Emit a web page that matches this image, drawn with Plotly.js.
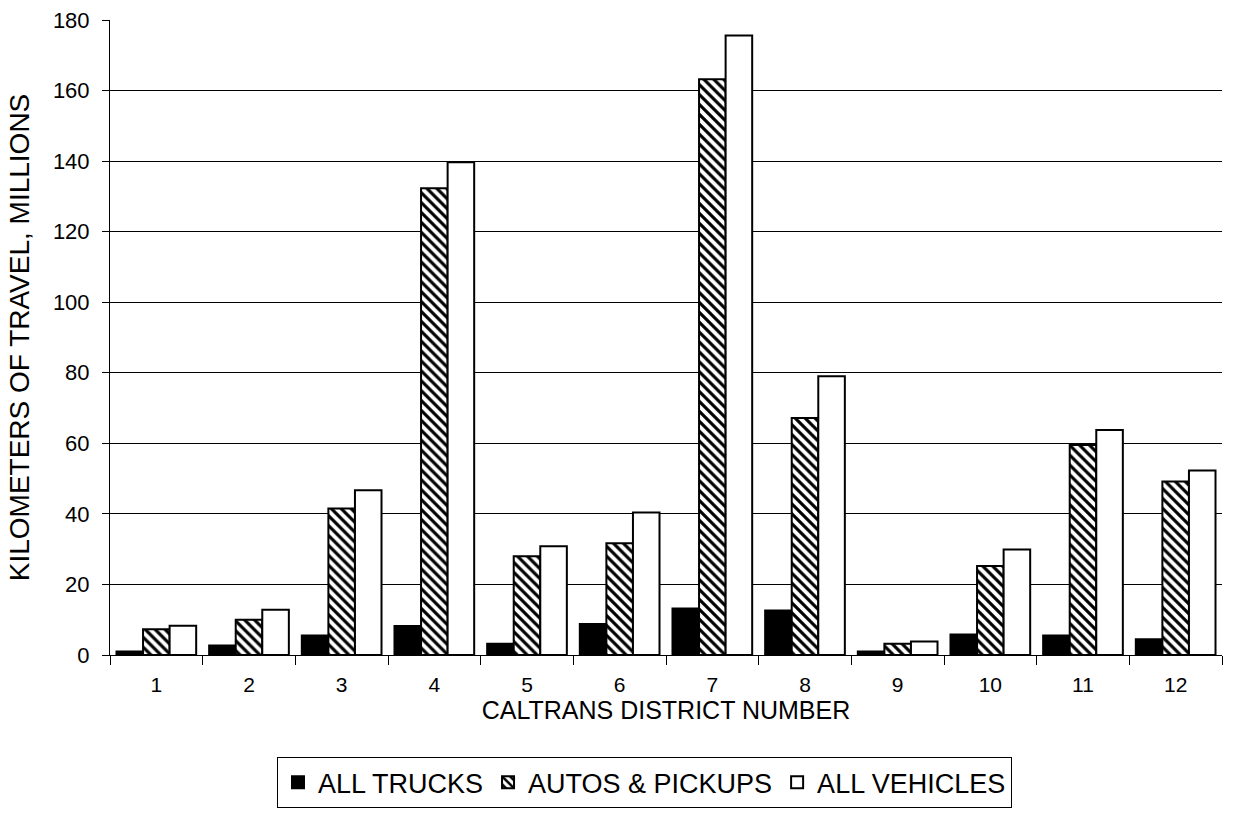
<!DOCTYPE html>
<html>
<head>
<meta charset="utf-8">
<script src="https://cdn.plot.ly/plotly-3.0.1.min.js"></script>
<style>html,body{margin:0;padding:0;background:#fff;}#chart{width:1237px;height:816px;}</style>
</head>
<body>
<div id="chart"></div>
<script>
const districts = ["1","2","3","4","5","6","7","8","9","10","11","12"];
const allTrucks = [1.0, 2.7, 5.5, 8.2, 3.2, 8.8, 13.2, 12.6, 1.0, 5.8, 5.5, 4.5];
const autosPickups = [7.3, 10.0, 41.5, 132.3, 28.0, 31.7, 163.2, 67.2, 3.2, 25.2, 59.5, 49.2];
const allVehicles = [8.3, 12.8, 46.7, 139.7, 30.8, 40.4, 175.6, 79.0, 3.8, 29.9, 63.8, 52.3];
const yTicks = [0,20,40,60,80,100,120,140,160,180];

const font = "Liberation Sans, Arial, sans-serif";
const line = {color:"#000", width:2};
const data = [
  {type:"bar", name:"ALL TRUCKS", x:districts, y:allTrucks,
   marker:{color:"#000", line:line}},
  {type:"bar", name:"AUTOS & PICKUPS", x:districts, y:autosPickups,
   marker:{color:"#fff", line:line, pattern:{shape:"\\", fgcolor:"#000", bgcolor:"#fff", size:7, solidity:0.45}}},
  {type:"bar", name:"ALL VEHICLES", x:districts, y:allVehicles,
   marker:{color:"#fff", line:line}}
];
const layout = {
  width:1237, height:816,
  margin:{l:110, r:15, t:20, b:161},
  paper_bgcolor:"#fff", plot_bgcolor:"#fff",
  font:{family:font, color:"#000", size:20},
  barmode:"group", bargap:0.14, bargroupgap:0,
  showlegend:true,
  legend:{orientation:"h", xref:"container", yref:"container", x:0.521, xanchor:"center", y:0.072, yanchor:"top",
    bordercolor:"#000", borderwidth:1, font:{size:27, family:font}, traceorder:"normal",
    itemwidth:30, tracegroupgap:0},
  xaxis:{type:"category", tickson:"boundaries", ticks:"outside", ticklen:9, tickcolor:"#000",
    showline:true, linecolor:"#000", linewidth:1, showgrid:false, zeroline:false, automargin:false,
    tickfont:{size:21}, ticklabelstandoff:11,
    title:{text:"CALTRANS DISTRICT NUMBER", font:{size:25}, standoff:0}},
  yaxis:{range:[0,180], tickvals:yTicks, ticks:"outside", ticklen:7, tickcolor:"#000",
    showline:true, linecolor:"#000", linewidth:1, showgrid:true, gridcolor:"#000", gridwidth:1,
    zeroline:false, automargin:false, tickfont:{size:22}, ticklabelstandoff:8,
    title:{text:"KILOMETERS OF TRAVEL, MILLIONS", font:{size:28}, standoff:15}}
};
Plotly.newPlot("chart", data, layout, {displayModeBar:false, staticPlot:true});
</script>
</body>
</html>
